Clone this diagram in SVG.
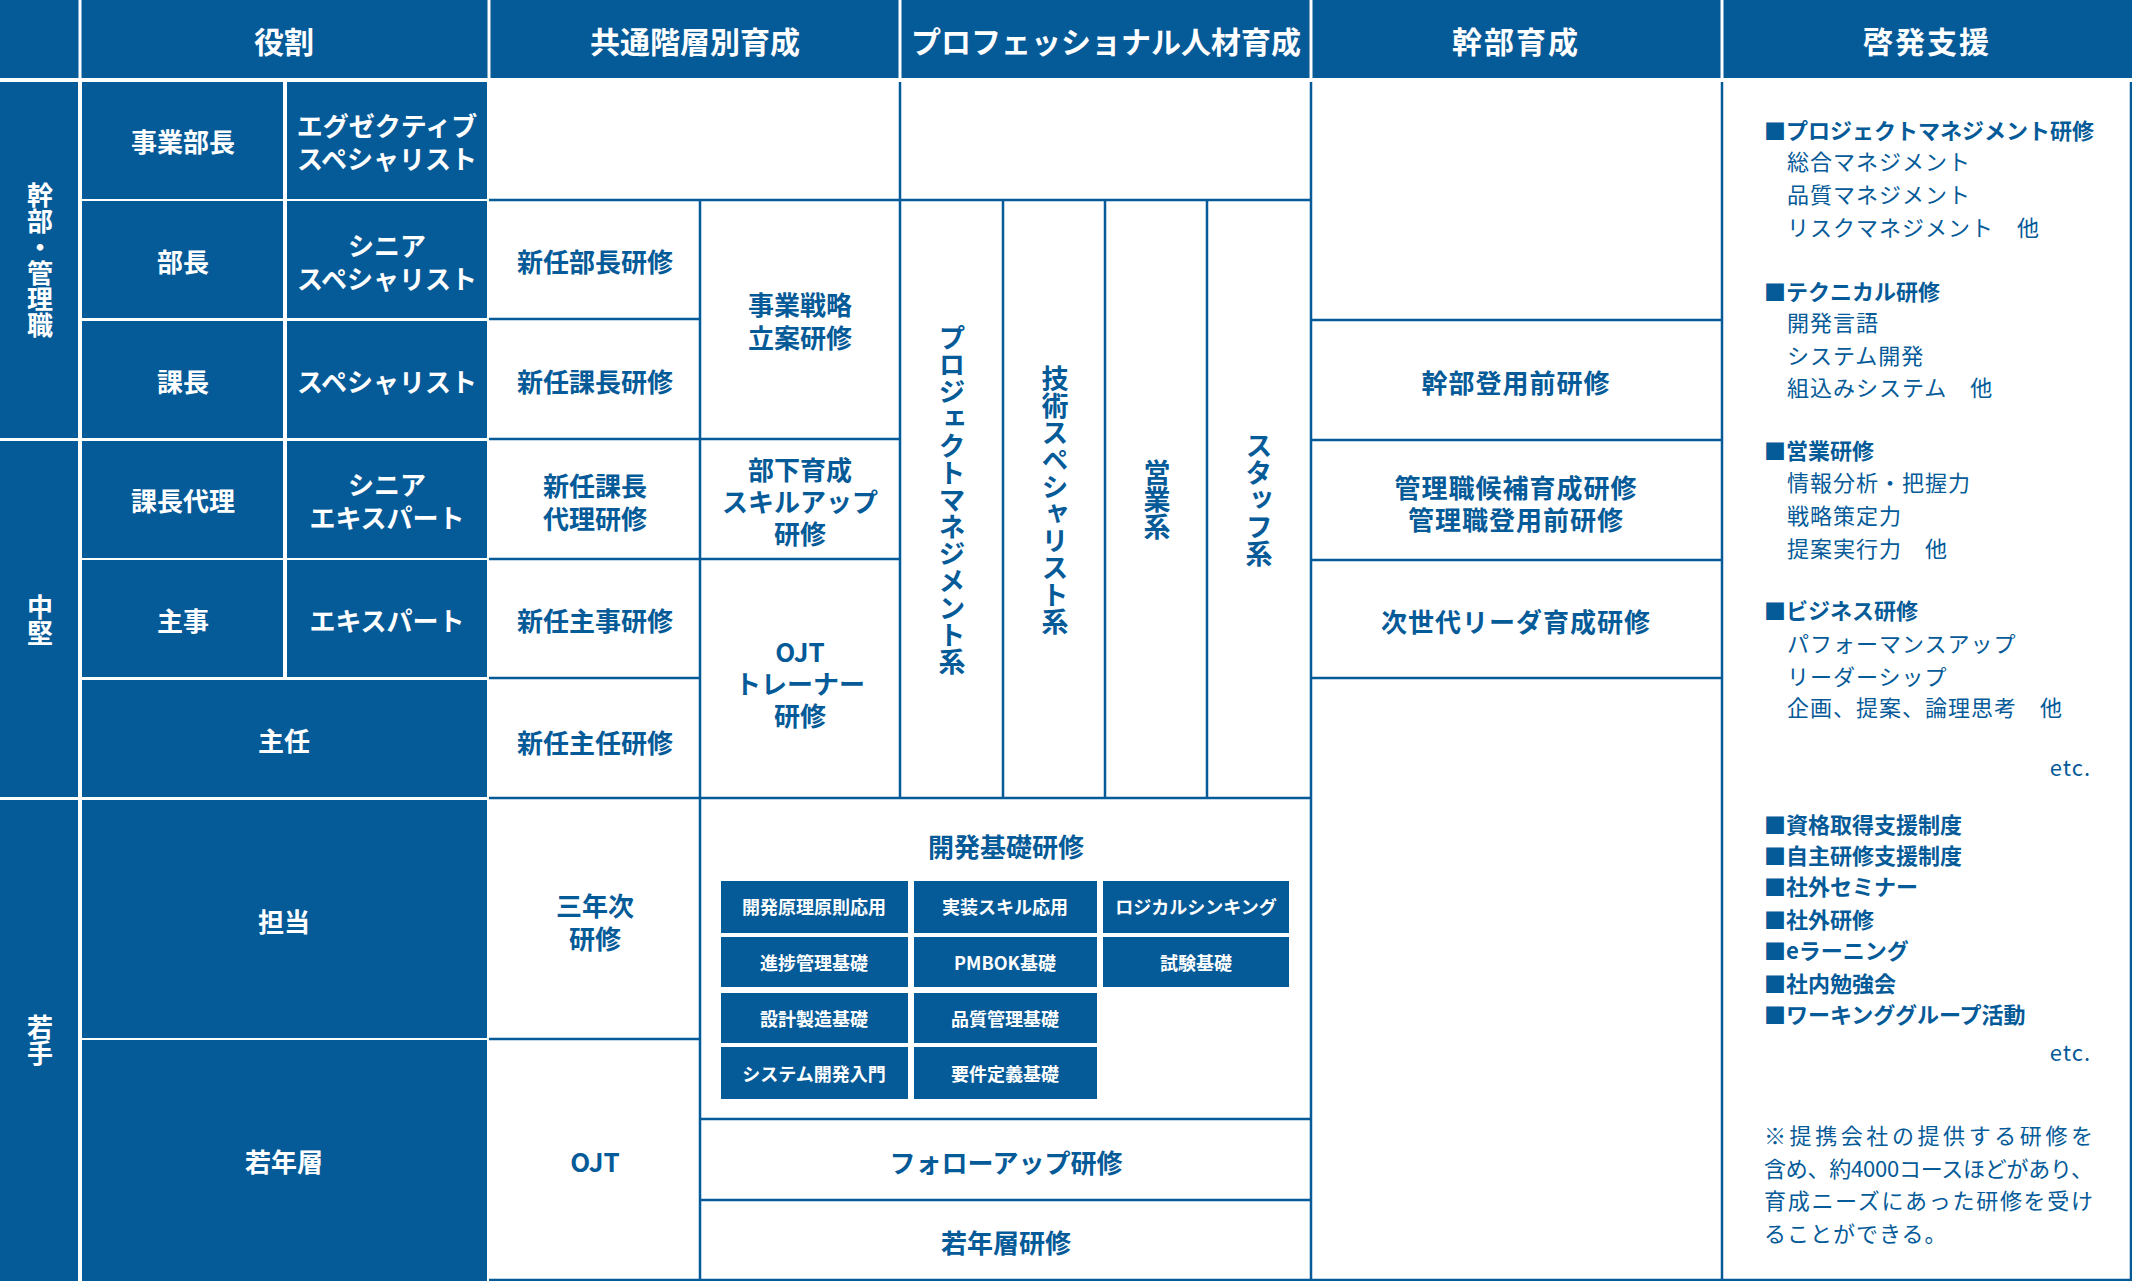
<svg xmlns="http://www.w3.org/2000/svg" width="2132" height="1281" viewBox="0 0 2132 1281">
<style>
text{font-family:"Noto Sans CJK JP","Noto Sans",sans-serif;font-weight:bold;dominant-baseline:central}
.h{fill:#fff;font-size:30px;text-anchor:middle}
.c{fill:#fff;font-size:26px;text-anchor:middle}
.b{fill:#055a98;font-size:26px;text-anchor:middle}
.s{fill:#fff;font-size:18px;text-anchor:middle}
.v{fill:#fff;font-size:26px;writing-mode:vertical-rl;text-anchor:middle}
.vb{fill:#055a98;font-size:27px;writing-mode:vertical-rl;text-anchor:middle}
.r{fill:#055a98;font-size:22px}
.rn{fill:#055a98;font-size:22px;font-weight:normal;letter-spacing:1px}
.blk{fill:#055a98}
.ln{stroke:#055a98;stroke-width:2.5;fill:none}
</style>
<rect width="2132" height="1281" fill="#fff"/>
<g id="header">
<rect class="blk" x="0" y="0" width="2132" height="78"/>
<g stroke="#fff" stroke-width="3"><line x1="80" y1="0" x2="80" y2="78"/><line x1="489" y1="0" x2="489" y2="78"/><line x1="900" y1="0" x2="900" y2="78"/><line x1="1311" y1="0" x2="1311" y2="78"/><line x1="1722" y1="0" x2="1722" y2="78"/></g>
<text class="h" x="284" y="40">役割</text>
<text class="h" x="695" y="40">共通階層別育成</text>
<text class="h" x="1106" y="40">プロフェッショナル人材育成</text>
<text class="h" x="1516" y="40" letter-spacing="2">幹部育成</text>
<text class="h" x="1927" y="40" letter-spacing="2">啓発支援</text>
</g>
<g id="categories">
<rect class="blk" x="0" y="82" width="78" height="356"/>
<rect class="blk" x="0" y="441" width="78" height="356"/>
<rect class="blk" x="0" y="800" width="78" height="481"/>
<text class="v" x="40" y="260">幹部・管理職</text>
<text class="v" x="40" y="620">中堅</text>
<text class="v" x="40" y="1040">若手</text>
</g>
<g id="roles">
<rect class="blk" x="82" y="82" width="201" height="117"/><rect class="blk" x="287" y="82" width="200" height="117"/>
<rect class="blk" x="82" y="201" width="201" height="117"/><rect class="blk" x="287" y="201" width="200" height="117"/>
<rect class="blk" x="82" y="321" width="201" height="117"/><rect class="blk" x="287" y="321" width="200" height="117"/>
<rect class="blk" x="82" y="441" width="201" height="117"/><rect class="blk" x="287" y="441" width="200" height="117"/>
<rect class="blk" x="82" y="560" width="201" height="117"/><rect class="blk" x="287" y="560" width="200" height="117"/>
<rect class="blk" x="82" y="680" width="405" height="117"/>
<rect class="blk" x="82" y="800" width="405" height="238"/>
<rect class="blk" x="82" y="1040" width="405" height="241"/>
<text class="c" x="183" y="140">事業部長</text>
<text class="c" x="387" y="124">エグゼクティブ</text><text class="c" x="387" y="157">スペシャリスト</text>
<text class="c" x="183" y="260">部長</text>
<text class="c" x="387" y="244">シニア</text><text class="c" x="387" y="277">スペシャリスト</text>
<text class="c" x="183" y="380">課長</text>
<text class="c" x="387" y="380">スペシャリスト</text>
<text class="c" x="183" y="499">課長代理</text>
<text class="c" x="387" y="483">シニア</text><text class="c" x="387" y="516">エキスパート</text>
<text class="c" x="183" y="619">主事</text>
<text class="c" x="387" y="619">エキスパート</text>
<text class="c" x="284" y="739">主任</text>
<text class="c" x="284" y="920">担当</text>
<text class="c" x="284" y="1160">若年層</text>
</g>
<g id="connectors">
<path class="ln" d="M489 200H1311M489 319H700M489 439H900M489 559H900M489 678H700M1311 320H1722M1311 440H1722M1311 560H1722M1311 678H1722M489 798H1311M700 1039H489M700 1119H1311M700 1200H1311M489 1280H2132M700 200V1280M900 82V798M1003 200V798M1105 200V798M1207 200V798M1311 82V1280M1722 82V1280M2131 82V1280"/>
</g>
<g id="common">
<text class="b" x="595" y="260">新任部長研修</text>
<text class="b" x="595" y="380">新任課長研修</text>
<text class="b" x="595" y="484">新任課長</text><text class="b" x="595" y="517">代理研修</text>
<text class="b" x="595" y="619">新任主事研修</text>
<text class="b" x="595" y="741">新任主任研修</text>
<text class="b" x="595" y="904">三年次</text><text class="b" x="595" y="937">研修</text>
<text class="b" x="595" y="1160">OJT</text>
<text class="b" x="800" y="303">事業戦略</text><text class="b" x="800" y="336">立案研修</text>
<text class="b" x="800" y="468">部下育成</text><text class="b" x="800" y="500">スキルアップ</text><text class="b" x="800" y="532">研修</text>
<text class="b" x="800" y="650">OJT</text><text class="b" x="800" y="682">トレーナー</text><text class="b" x="800" y="714">研修</text>
</g>
<g id="professional">
<text class="vb" x="952" y="500">プロジェクトマネジメント系</text>
<text class="vb" x="1055" y="500">技術スペシャリスト系</text>
<text class="vb" x="1157" y="500">営業系</text>
<text class="vb" x="1259" y="500">スタッフ系</text>
</g>
<g id="dev">
<text class="b" x="1006" y="845">開発基礎研修</text>
<rect class="blk" x="721" y="881" width="187" height="52"/><rect class="blk" x="914" y="881" width="183" height="52"/><rect class="blk" x="1103" y="881" width="186" height="52"/>
<rect class="blk" x="721" y="937" width="187" height="50"/><rect class="blk" x="914" y="937" width="183" height="50"/><rect class="blk" x="1103" y="937" width="186" height="50"/>
<rect class="blk" x="721" y="993" width="187" height="50"/><rect class="blk" x="914" y="993" width="183" height="50"/>
<rect class="blk" x="721" y="1047" width="187" height="52"/><rect class="blk" x="914" y="1047" width="183" height="52"/>
<text class="s" x="814" y="906">開発原理原則応用</text><text class="s" x="1005" y="906">実装スキル応用</text><text class="s" x="1196" y="906">ロジカルシンキング</text>
<text class="s" x="814" y="962">進捗管理基礎</text><text class="s" x="1005" y="962">PMBOK基礎</text><text class="s" x="1196" y="962">試験基礎</text>
<text class="s" x="814" y="1018">設計製造基礎</text><text class="s" x="1005" y="1018">品質管理基礎</text>
<text class="s" x="814" y="1073">システム開発入門</text><text class="s" x="1005" y="1073">要件定義基礎</text>
<text class="b" x="1006" y="1161">フォローアップ研修</text>
<text class="b" x="1006" y="1241">若年層研修</text>
</g>
<g id="executive">
<text class="b" x="1516" y="381" letter-spacing="1">幹部登用前研修</text>
<text class="b" x="1516" y="486" letter-spacing="1">管理職候補育成研修</text>
<text class="b" x="1516" y="518" letter-spacing="1">管理職登用前研修</text>
<text class="b" x="1516" y="620" letter-spacing="1">次世代リーダ育成研修</text>
</g>
<g id="self">
<text class="r" x="1764" y="129">■プロジェクトマネジメント研修</text>
<text class="rn" x="1787" y="160">総合マネジメント</text>
<text class="rn" x="1787" y="193">品質マネジメント</text>
<text class="rn" x="1787" y="226">リスクマネジメント　他</text>
<text class="r" x="1764" y="290">■テクニカル研修</text>
<text class="rn" x="1787" y="321">開発言語</text>
<text class="rn" x="1787" y="354">システム開発</text>
<text class="rn" x="1787" y="386">組込みシステム　他</text>
<text class="r" x="1764" y="449">■営業研修</text>
<text class="rn" x="1787" y="481">情報分析・把握力</text>
<text class="rn" x="1787" y="514">戦略策定力</text>
<text class="rn" x="1787" y="547">提案実行力　他</text>
<text class="r" x="1764" y="609">■ビジネス研修</text>
<text class="rn" x="1787" y="642">パフォーマンスアップ</text>
<text class="rn" x="1787" y="675">リーダーシップ</text>
<text class="rn" x="1787" y="706">企画、提案、論理思考　他</text>
<text class="rn" x="2091" y="766" text-anchor="end">etc.</text>
<text class="r" x="1764" y="823">■資格取得支援制度</text>
<text class="r" x="1764" y="854">■自主研修支援制度</text>
<text class="r" x="1764" y="885">■社外セミナー</text>
<text class="r" x="1764" y="918">■社外研修</text>
<text class="r" x="1764" y="949">■eラーニング</text>
<text class="r" x="1764" y="982">■社内勉強会</text>
<text class="r" x="1764" y="1013">■ワーキンググループ活動</text>
<text class="rn" x="2091" y="1051" text-anchor="end">etc.</text>
<text class="rn" x="1764" y="1134" textLength="330" lengthAdjust="spacing">※提携会社の提供する研修を</text>
<text class="rn" x="1764" y="1167" textLength="330" lengthAdjust="spacing">含め、約4000コースほどがあり、</text>
<text class="rn" x="1764" y="1199" textLength="330" lengthAdjust="spacing">育成ニーズにあった研修を受け</text>
<text class="rn" x="1764" y="1232">ることができる。</text>
</g>
</svg>
